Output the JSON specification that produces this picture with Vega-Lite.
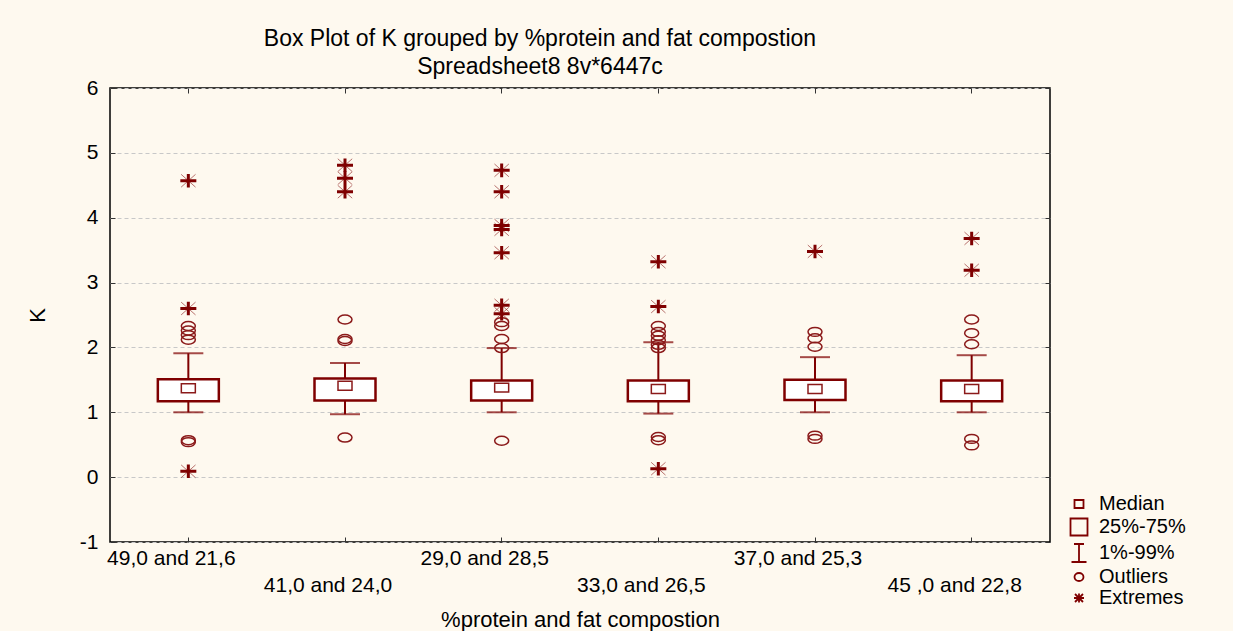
{
  "$schema": "https://vega.github.io/schema/vega-lite/v6.json",
  "width": 940,
  "height": 454,
  "autosize": {"type": "none"},
  "padding": {"left": 110, "top": 88, "right": 183, "bottom": 89},
  "background": "#FEF9EF",
  "config": {
    "font": "Liberation Sans",
    "view": {"fill": "white", "stroke": "black", "strokeWidth": 1.5},
    "axis": {"labelColor": "black", "titleColor": "black", "titleFontWeight": "normal", "tickColor": "#333333", "domain": false}
  },
  "title": {
    "text": "Box Plot of K grouped by  %protein and fat compostion",
    "subtitle": "Spreadsheet8 8v*6447c",
    "fontSize": 23,
    "subtitleFontSize": 23,
    "fontWeight": "normal",
    "color": "black",
    "subtitleColor": "black",
    "anchor": "middle",
    "frame": "group",
    "dx": -40,
    "offset": -2,
    "subtitlePadding": 5
  },
  "datasets": {
    "stats": [
      {"group": "49,0 and 21,6", "lo": 1.00, "q1": 1.17, "med": 1.37, "q3": 1.51, "hi": 1.91},
      {"group": "41,0 and 24,0", "lo": 0.97, "q1": 1.18, "med": 1.41, "q3": 1.52, "hi": 1.76},
      {"group": "29,0 and 28,5", "lo": 1.00, "q1": 1.18, "med": 1.38, "q3": 1.49, "hi": 1.99},
      {"group": "33,0 and 26,5", "lo": 0.98, "q1": 1.17, "med": 1.36, "q3": 1.49, "hi": 2.08},
      {"group": "37,0 and 25,3", "lo": 1.00, "q1": 1.19, "med": 1.36, "q3": 1.50, "hi": 1.85},
      {"group": "45 ,0 and 22,8", "lo": 1.00, "q1": 1.17, "med": 1.36, "q3": 1.49, "hi": 1.88}
    ],
    "pts": [
      {"group": "49,0 and 21,6", "K": 2.12, "kind": "Outliers"},
      {"group": "49,0 and 21,6", "K": 2.19, "kind": "Outliers"},
      {"group": "49,0 and 21,6", "K": 2.26, "kind": "Outliers"},
      {"group": "49,0 and 21,6", "K": 2.33, "kind": "Outliers"},
      {"group": "49,0 and 21,6", "K": 0.54, "kind": "Outliers"},
      {"group": "49,0 and 21,6", "K": 0.57, "kind": "Outliers"},
      {"group": "49,0 and 21,6", "K": 4.57, "kind": "Extremes"},
      {"group": "49,0 and 21,6", "K": 2.60, "kind": "Extremes"},
      {"group": "49,0 and 21,6", "K": 0.09, "kind": "Extremes"},
      {"group": "41,0 and 24,0", "K": 2.43, "kind": "Outliers"},
      {"group": "41,0 and 24,0", "K": 2.10, "kind": "Outliers"},
      {"group": "41,0 and 24,0", "K": 2.13, "kind": "Outliers"},
      {"group": "41,0 and 24,0", "K": 0.61, "kind": "Outliers"},
      {"group": "41,0 and 24,0", "K": 4.81, "kind": "Extremes"},
      {"group": "41,0 and 24,0", "K": 4.61, "kind": "Extremes"},
      {"group": "41,0 and 24,0", "K": 4.40, "kind": "Extremes"},
      {"group": "29,0 and 28,5", "K": 2.39, "kind": "Outliers"},
      {"group": "29,0 and 28,5", "K": 2.33, "kind": "Outliers"},
      {"group": "29,0 and 28,5", "K": 2.13, "kind": "Outliers"},
      {"group": "29,0 and 28,5", "K": 1.99, "kind": "Outliers"},
      {"group": "29,0 and 28,5", "K": 0.56, "kind": "Outliers"},
      {"group": "29,0 and 28,5", "K": 4.73, "kind": "Extremes"},
      {"group": "29,0 and 28,5", "K": 4.40, "kind": "Extremes"},
      {"group": "29,0 and 28,5", "K": 3.88, "kind": "Extremes"},
      {"group": "29,0 and 28,5", "K": 3.82, "kind": "Extremes"},
      {"group": "29,0 and 28,5", "K": 3.46, "kind": "Extremes"},
      {"group": "29,0 and 28,5", "K": 2.65, "kind": "Extremes"},
      {"group": "29,0 and 28,5", "K": 2.52, "kind": "Extremes"},
      {"group": "33,0 and 26,5", "K": 2.33, "kind": "Outliers"},
      {"group": "33,0 and 26,5", "K": 2.24, "kind": "Outliers"},
      {"group": "33,0 and 26,5", "K": 2.18, "kind": "Outliers"},
      {"group": "33,0 and 26,5", "K": 2.11, "kind": "Outliers"},
      {"group": "33,0 and 26,5", "K": 2.04, "kind": "Outliers"},
      {"group": "33,0 and 26,5", "K": 1.99, "kind": "Outliers"},
      {"group": "33,0 and 26,5", "K": 0.62, "kind": "Outliers"},
      {"group": "33,0 and 26,5", "K": 0.57, "kind": "Outliers"},
      {"group": "33,0 and 26,5", "K": 3.32, "kind": "Extremes"},
      {"group": "33,0 and 26,5", "K": 2.63, "kind": "Extremes"},
      {"group": "33,0 and 26,5", "K": 0.13, "kind": "Extremes"},
      {"group": "37,0 and 25,3", "K": 2.24, "kind": "Outliers"},
      {"group": "37,0 and 25,3", "K": 2.14, "kind": "Outliers"},
      {"group": "37,0 and 25,3", "K": 2.01, "kind": "Outliers"},
      {"group": "37,0 and 25,3", "K": 0.64, "kind": "Outliers"},
      {"group": "37,0 and 25,3", "K": 0.59, "kind": "Outliers"},
      {"group": "37,0 and 25,3", "K": 3.48, "kind": "Extremes"},
      {"group": "45 ,0 and 22,8", "K": 2.43, "kind": "Outliers"},
      {"group": "45 ,0 and 22,8", "K": 2.22, "kind": "Outliers"},
      {"group": "45 ,0 and 22,8", "K": 2.05, "kind": "Outliers"},
      {"group": "45 ,0 and 22,8", "K": 0.59, "kind": "Outliers"},
      {"group": "45 ,0 and 22,8", "K": 0.49, "kind": "Outliers"},
      {"group": "45 ,0 and 22,8", "K": 3.68, "kind": "Extremes"},
      {"group": "45 ,0 and 22,8", "K": 3.19, "kind": "Extremes"}
    ],
    "legendItems": [
      {"item": "Median"},
      {"item": "25%-75%"},
      {"item": "1%-99%"},
      {"item": "Outliers"},
      {"item": "Extremes"}
    ]
  },
  "layer": [
    {
      "layer": [
        {
          "data": {"name": "stats"},
          "mark": {"type": "rule", "color": "#7F0000", "strokeWidth": 2},
          "encoding": {
            "x": {
              "field": "group", "type": "nominal", "title": "%protein and fat compostion",
              "sort": ["49,0 and 21,6", "41,0 and 24,0", "29,0 and 28,5", "33,0 and 26,5", "37,0 and 25,3", "45 ,0 and 22,8"],
              "scale": {"paddingInner": 0, "paddingOuter": 0},
              "axis": {
                "labelAngle": 0, "labelFontSize": 21, "titleFontSize": 22, "tickSize": -5, "labelPadding": 10,
                "labelLineHeight": 27, "labelBaseline": "top", "titlePadding": 14, "labelOffset": -17,
                "labelExpr": "indexof(['41,0 and 24,0','33,0 and 26,5','45 ,0 and 22,8'], datum.value) >= 0 ? ['', datum.label] : [datum.label]"
              }
            },
            "y": {
              "field": "lo", "type": "quantitative", "title": "K",
              "scale": {"domain": [-1, 6], "nice": false, "zero": false},
              "axis": {
                "values": [-1, 0, 1, 2, 3, 4, 5, 6], "labelExpr": "'' + datum.value", "labelFontSize": 21, "titleFontSize": 22, "tickSize": -5, "labelPadding": 17,
                "grid": true, "gridDash": [4, 3], "gridColor": "#c8c8c8", "titlePadding": 30
              }
            },
            "y2": {"field": "hi"}
          }
        },
        {
          "data": {"name": "stats"},
          "mark": {"type": "tick", "color": "#7F0000", "size": 30, "thickness": 2},
          "encoding": {
            "x": {"field": "group", "type": "nominal", "title": "%protein and fat compostion", "sort": ["49,0 and 21,6", "41,0 and 24,0", "29,0 and 28,5", "33,0 and 26,5", "37,0 and 25,3", "45 ,0 and 22,8"]},
            "y": {"field": "lo", "type": "quantitative", "title": "K"}
          }
        },
        {
          "data": {"name": "stats"},
          "mark": {"type": "tick", "color": "#7F0000", "size": 30, "thickness": 2},
          "encoding": {
            "x": {"field": "group", "type": "nominal", "title": "%protein and fat compostion", "sort": ["49,0 and 21,6", "41,0 and 24,0", "29,0 and 28,5", "33,0 and 26,5", "37,0 and 25,3", "45 ,0 and 22,8"]},
            "y": {"field": "hi", "type": "quantitative", "title": "K"}
          }
        },
        {
          "data": {"name": "stats"},
          "mark": {"type": "bar", "fill": "white", "stroke": "#7F0000", "strokeWidth": 2.5, "size": 61},
          "encoding": {
            "x": {"field": "group", "type": "nominal", "title": "%protein and fat compostion", "sort": ["49,0 and 21,6", "41,0 and 24,0", "29,0 and 28,5", "33,0 and 26,5", "37,0 and 25,3", "45 ,0 and 22,8"]},
            "y": {"field": "q1", "type": "quantitative", "title": "K"},
            "y2": {"field": "q3"}
          }
        },
        {
          "data": {"name": "stats"},
          "mark": {"type": "point", "filled": false, "stroke": "#8B1A1A", "strokeWidth": 1.5, "size": 196, "shape": "M-1,-0.64H1V0.64H-1Z", "opacity": 1},
          "encoding": {
            "x": {"field": "group", "type": "nominal", "title": "%protein and fat compostion", "sort": ["49,0 and 21,6", "41,0 and 24,0", "29,0 and 28,5", "33,0 and 26,5", "37,0 and 25,3", "45 ,0 and 22,8"]},
            "y": {"field": "med", "type": "quantitative", "title": "K"}
          }
        },
        {
          "data": {"name": "pts"},
          "transform": [{"filter": "datum.kind == 'Outliers'"}],
          "mark": {"type": "point", "filled": false, "stroke": "#8B1A1A", "strokeWidth": 1.5, "size": 196, "shape": "M-1,0A1,0.64,0,1,1,1,0A1,0.64,0,1,1,-1,0Z", "opacity": 1},
          "encoding": {
            "x": {"field": "group", "type": "nominal", "title": "%protein and fat compostion", "sort": ["49,0 and 21,6", "41,0 and 24,0", "29,0 and 28,5", "33,0 and 26,5", "37,0 and 25,3", "45 ,0 and 22,8"]},
            "y": {"field": "K", "type": "quantitative", "title": "K"}
          }
        },
        {
          "data": {"name": "pts"},
          "transform": [{"filter": "datum.kind == 'Extremes'"}],
          "mark": {"type": "point", "filled": false, "stroke": "#8B1A1A", "strokeWidth": 1, "opacity": 0.6, "size": 256, "shape": "M-0.9,-0.8L0.9,0.8M-0.9,0.8L0.9,-0.8"},
          "encoding": {
            "x": {"field": "group", "type": "nominal", "title": "%protein and fat compostion", "sort": ["49,0 and 21,6", "41,0 and 24,0", "29,0 and 28,5", "33,0 and 26,5", "37,0 and 25,3", "45 ,0 and 22,8"]},
            "y": {"field": "K", "type": "quantitative", "title": "K"}
          }
        },
        {
          "data": {"name": "pts"},
          "transform": [{"filter": "datum.kind == 'Extremes'"}],
          "mark": {"type": "point", "filled": false, "stroke": "#7F0000", "strokeWidth": 3, "opacity": 1, "size": 256, "shape": "M-1,0H1M0,-0.85V0.85"},
          "encoding": {
            "x": {"field": "group", "type": "nominal", "title": "%protein and fat compostion", "sort": ["49,0 and 21,6", "41,0 and 24,0", "29,0 and 28,5", "33,0 and 26,5", "37,0 and 25,3", "45 ,0 and 22,8"]},
            "y": {"field": "K", "type": "quantitative", "title": "K"}
          }
        },
        {
          "data": {"name": "legendItems"},
          "mark": {"type": "point", "filled": false, "opacity": 0, "size": 400, "stroke": "#7F0000"},
          "encoding": {
            "shape": {
              "field": "item", "type": "nominal",
              "scale": {
                "domain": ["Median", "25%-75%", "1%-99%", "Outliers", "Extremes"],
                "range": [
                  "M-0.45,-0.4H0.45V0.4H-0.45Z",
                  "M-0.85,-0.85H0.85V0.85H-0.85Z",
                  "M-0.5,-0.9H0.5M0,-0.9V0.9M-0.75,0.9H0.75",
                  "M-0.45,0A0.45,0.4,0,1,1,0.45,0A0.45,0.4,0,1,1,-0.45,0Z",
                  "M-0.5,0H0.5M0,-0.45V0.45M-0.4,-0.4L0.4,0.4M-0.4,0.4L0.4,-0.4"
                ]
              },
              "legend": {
                "title": null, "orient": "none", "legendX": 958, "legendY": 405,
                "labelFontSize": 20, "labelColor": "black", "symbolSize": 400, "symbolOpacity": 1,
                "symbolStrokeColor": "#7F0000", "symbolFillColor": "transparent", "symbolStrokeWidth": 1.8,
                "rowPadding": 0, "labelOffset": 9
              }
            }
          }
        }
      ]
    },
    {
      "data": {"name": "stats"},
      "mark": {"type": "tick", "opacity": 0},
      "encoding": {
        "x": {
          "field": "group", "type": "nominal", "title": null,
          "sort": ["49,0 and 21,6", "41,0 and 24,0", "29,0 and 28,5", "33,0 and 26,5", "37,0 and 25,3", "45 ,0 and 22,8"],
          "axis": {"orient": "top", "labels": false, "tickSize": -5, "grid": false}
        },
        "y": {
          "field": "hi", "type": "quantitative", "title": null,
          "axis": {"orient": "right", "labels": false, "tickSize": -5, "grid": false, "values": [-1, 0, 1, 2, 3, 4, 5, 6]}
        }
      }
    }
  ],
  "resolve": {"axis": {"x": "independent", "y": "independent"}}
}
